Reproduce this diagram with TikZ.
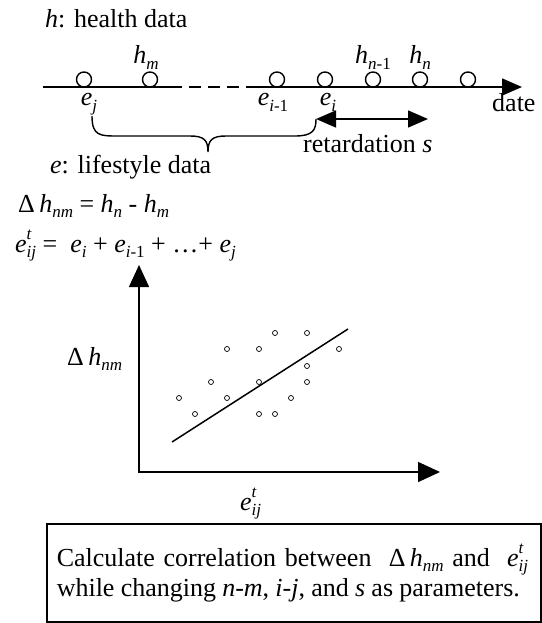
\documentclass[tikz,border=0pt]{standalone}
\usepackage{fontspec}
\setmainfont{Liberation Serif}
\usetikzlibrary{positioning, arrows.meta, calc}

\newcommand{\iv}[1]{\textit{#1}}
\newcommand{\smallidx}[1]{{\fontsize{17}{17}\selectfont #1}}
\newcommand{\isub}[2]{\textit{#1}\raisebox{-0.22em}{\smallidx{#2}}}
\newcommand{\etij}{\textit{e}\rlap{\raisebox{0.5em}{\smallidx{\textit{t}}}}\raisebox{-0.22em}{\smallidx{\textit{ij}}}}

\begin{document}
\begin{tikzpicture}[x=1pt, y=-1pt, >={Triangle[length=20pt, width=17pt]},
    font=\fontsize{26}{28}\selectfont,
    lbl/.style={anchor=base west, inner sep=0pt},
    clbl/.style={anchor=base, inner sep=0pt},
    obs/.style={circle, draw, line width=1.4pt, fill=white, minimum size=15pt, inner sep=0pt},
    pt/.style={circle, draw, line width=0.7pt, minimum size=5pt, inner sep=0pt},
    ln/.style={line width=1.5pt}]

    \useasboundingbox (0,0) rectangle (541,623);

    % 1. Time axis
    \coordinate (t0) at (43,87);
    \coordinate (d0) at (170,87);
    \coordinate (d1) at (250,87);
    \coordinate (t1) at (522,87);
    \draw[ln] (t0) -- (d0);
    \draw[ln, dash pattern=on 12pt off 7pt] (d0) -- (d1);
    \draw[ln, ->] (d1) -- (t1);

    \foreach \n/\x in {1/84, 2/150, 3/277, 4/325, 5/373, 6/420, 7/468} {
        \node[obs] (c\n) at (\x,79.5) {};
    }

    \node[lbl] (hlegend) at (45,28) {\iv{h}: health data};
    \node[clbl] (hm) at (146,64) {\isub{h}{\iv{m}}};
    \node[clbl] (hn1) at (373,64) {\isub{h}{\iv{n}-1}};
    \node[clbl] (hn) at (420,64) {\isub{h}{\iv{n}}};
    \node[clbl] (ej) at (89,106) {\isub{e}{\iv{j}}};
    \node[clbl] (ei1) at (273,106) {\isub{e}{\iv{i}-1}};
    \node[clbl] (ei) at (328,106) {\isub{e}{\iv{i}}};
    \node[lbl] (date) at (492,112) {date};

    % 2. Brace and retardation
    \coordinate (bL) at (92,116);
    \coordinate (bT) at (208,152);
    \coordinate (r0) at (316,119);
    \coordinate (r1) at (428,119);
    \draw[line width=1.4pt] (bL) .. controls (92,136) and (100,136) .. (118,136) -- (190,136)
        .. controls (204,136) and (208,140) .. (bT)
        .. controls (208,140) and (212,136) .. (226,136) -- (295,136)
        .. controls (313,136) and (316,130) .. (r0);
    \draw[ln, <->] (r0) -- (r1);
    \node[lbl] (ret) at (303,152) {retardation \iv{s}};

    \node[lbl] (elegend) at (50,173) {\iv{e}: lifestyle data};
    \node[lbl] (dheq) at (18,212) {Δ\,\isub{h}{\iv{nm}} = \isub{h}{\iv{n}} - \isub{h}{\iv{m}}};
    \node[lbl] (eteq) at (15,252) {\etij{} =\ \ \isub{e}{\iv{i}} + \isub{e}{\iv{i}-1} + …+ \isub{e}{\iv{j}}};

    % 3. Scatter plot
    \coordinate (o) at (139,472);
    \coordinate (ya) at (139,265);
    \coordinate (xa) at (440,472);
    \draw[ln, {Triangle[length=22pt, width=20pt]}-{Triangle[length=22pt, width=20pt]}] (ya) -- (o) -- (xa);
    \node[lbl] (ylab) at (67,365) {Δ\,\isub{h}{\iv{nm}}};
    \node[lbl] (xlab) at (240,510) {\etij};

    \foreach \x/\y in {275/333, 307/333, 227/349, 259/349, 339/349, 307/366, 211/382, 259/382,
                       307/382, 179/398, 227/398, 291/398, 195/414, 259/414, 275/414} {
        \node[pt] (p\x\y) at (\x,\y) {};
    }
    \coordinate (fit0) at (172,442);
    \coordinate (fit1) at (348,329);
    \draw[ln] (fit0) -- (fit1);

    % 4. Note box
    \node[draw, ln, anchor=north west, minimum height=98pt, text width=474pt, inner xsep=10pt,
          align=left] (note) at (46,523)
        {Calculate correlation between\ \ Δ\,\isub{h}{\iv{nm}} and\ \ \etij\\[2pt]
         {\spaceskip=0.24em plus 0.05em while changing \iv{n}-\iv{m}, \iv{i}-\iv{j}, and \iv{s} as parameters.}};

\end{tikzpicture}
\end{document}
